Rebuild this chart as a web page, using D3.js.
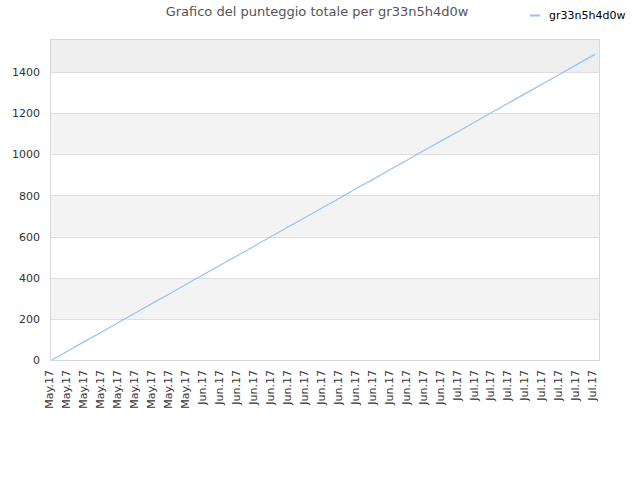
<!DOCTYPE html>
<html>
<head>
<meta charset="utf-8">
<script src="https://cdn.jsdelivr.net/npm/d3@7"></script>
<style>
  body { margin: 0; background: #fff; }
  text { font-family: "DejaVu Sans", sans-serif; }
</style>
</head>
<body>
<div id="chart"></div>
<script>
'use strict';

var title = 'Grafico del punteggio totale per gr33n5h4d0w';
var seriesName = 'gr33n5h4d0w';
var dates = [
	'May.17', 'May.17', 'May.17', 'May.17', 'May.17', 'May.17', 'May.17', 'May.17', 'May.17',
	'Jun.17', 'Jun.17', 'Jun.17', 'Jun.17', 'Jun.17', 'Jun.17', 'Jun.17', 'Jun.17',
	'Jun.17', 'Jun.17', 'Jun.17', 'Jun.17', 'Jun.17', 'Jun.17', 'Jun.17',
	'Jul.17', 'Jul.17', 'Jul.17', 'Jul.17', 'Jul.17', 'Jul.17', 'Jul.17', 'Jul.17', 'Jul.17'
];
var scores = [
	0, 46, 93, 139, 186, 232, 279, 325, 372, 418, 464,
	511, 557, 604, 650, 697, 743, 789, 836, 882, 929,
	975, 1022, 1068, 1114, 1161, 1207, 1254, 1300, 1347, 1393, 1440, 1486
];
var yTicks = [0, 200, 400, 600, 800, 1000, 1200, 1400];
var yMax = 1556;

var width = 640, height = 480;
var margin = {top: 40, right: 40, bottom: 120, left: 51};

var svg = d3.select('#chart').append('svg')
	.attr('width', width)
	.attr('height', height);

var x = d3.scalePoint()
	.domain(d3.range(dates.length))
	.range([margin.left + 0.7, width - margin.right - 5]);

var y = d3.scaleLinear()
	.domain([0, yMax])
	.range([height - margin.bottom, margin.top]);

// alternating bands
var bands = [];
for (var i = 0; i < yTicks.length; i++) {
	var lo = yTicks[i], hi = i + 1 < yTicks.length ? yTicks[i + 1] : yMax;
	var fill = i === yTicks.length - 1 ? '#eeeeee' : (i % 2 === 1 ? '#f3f3f3' : '#ffffff');
	bands.push({lo: lo, hi: hi, fill: fill});
}
svg.append('g').selectAll('rect')
	.data(bands)
	.enter().append('rect')
	.attr('x', margin.left)
	.attr('width', width - margin.right - margin.left)
	.attr('y', function(d) { return y(d.hi); })
	.attr('height', function(d) { return y(d.lo) - y(d.hi); })
	.attr('fill', function(d) { return d.fill; });

// grid lines
svg.append('g').selectAll('line')
	.data(yTicks.slice(1))
	.enter().append('line')
	.attr('x1', margin.left).attr('x2', width - margin.right)
	.attr('y1', function(d) { return Math.round(y(d)) + 0.5; })
	.attr('y2', function(d) { return Math.round(y(d)) + 0.5; })
	.attr('stroke', '#dedede');

// frame
svg.append('rect')
	.attr('x', margin.left - 0.5)
	.attr('y', margin.top - 0.5)
	.attr('width', width - margin.right - margin.left)
	.attr('height', height - margin.bottom - margin.top + 1)
	.attr('fill', 'none')
	.attr('stroke', '#d8d8d8');

// y axis
var yAxis = svg.append('g')
	.attr('transform', 'translate(' + (margin.left - 11) + ',0)')
	.call(d3.axisLeft(y).tickValues(yTicks).tickFormat(d3.format('d')).tickSize(0).tickPadding(0));
yAxis.select('.domain').remove();
yAxis.selectAll('text')
	.attr('fill', '#333')
	.style('font-size', '11px');

// x axis
var xAxis = svg.append('g')
	.attr('transform', 'translate(0,' + (height - margin.bottom) + ')')
	.call(d3.axisBottom(x).tickSize(0).tickFormat(function(d) { return dates[d]; }));
xAxis.select('.domain').remove();
xAxis.selectAll('text')
	.attr('fill', '#333')
	.style('font-size', '11px')
	.attr('text-anchor', 'end')
	.attr('transform', 'rotate(-90)')
	.attr('x', -10)
	.attr('y', -3)
	.attr('dy', '0.35em');

// line
var line = d3.line()
	.x(function(d, i) { return x(i); })
	.y(function(d) { return y(d); });

svg.append('path')
	.datum(scores)
	.attr('fill', 'none')
	.attr('stroke', '#92c4f4')
	.attr('stroke-width', 1.2)
	.attr('d', line);

// title
svg.append('text')
	.attr('x', 317)
	.attr('y', 16)
	.attr('text-anchor', 'middle')
	.attr('fill', '#555')
	.style('font-size', '13px')
	.text(title);

// legend
svg.append('line')
	.attr('x1', 530).attr('x2', 540)
	.attr('y1', 15.5).attr('y2', 15.5)
	.attr('stroke', '#92c4f4')
	.attr('stroke-width', 2);
svg.append('text')
	.attr('x', 549)
	.attr('y', 19)
	.attr('fill', '#000')
	.style('font-size', '11px')
	.text(seriesName);
</script>
</body>
</html>
